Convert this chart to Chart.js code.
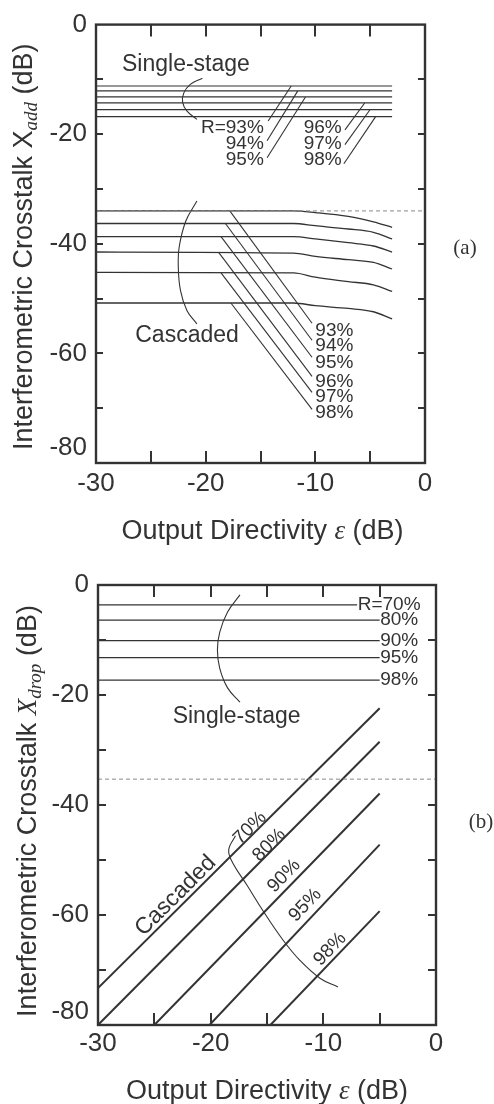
<!DOCTYPE html>
<html>
<head>
<meta charset="utf-8">
<script src="https://cdn.jsdelivr.net/npm/chart.js@4.4.1/dist/chart.umd.min.js"></script>
<style>
    html, body { margin: 0; padding: 0; background: #fff; }
    body { width: 494px; height: 1104px; position: relative; overflow: hidden; }
    canvas { position: absolute; left: 0; }
    #chartA { top: 0; }
    #chartB { top: 550px; }
</style>
</head>
<body>
<canvas id="chartA" width="494" height="550"></canvas>
<canvas id="chartB" width="494" height="554"></canvas>
<script>
// ===================================
// DATOS
// ===================================

// (a) add port: X_add vs epsilon
const epsA = [-30, -12, -10, -7, -4.7, -3];
const singleTextA = ['R=93%', '94%', '95%', '96%', '97%', '98%'];
const cascTextA = ['93%', '94%', '95%', '96%', '97%', '98%'];
const singleA = [-11.2, -12.1, -13.2, -14.3, -15.5, -16.8];
const cascadedA = [
    [-34.0, -34.0, -34.3, -35.0, -36.0, -37.0],
    [-36.3, -36.3, -36.7, -37.3, -37.9, -39.1],
    [-38.7, -38.7, -39.1, -39.8, -40.4, -41.5],
    [-41.5, -41.7, -42.3, -42.9, -43.4, -44.6],
    [-45.2, -45.3, -46.1, -46.9, -47.5, -48.7],
    [-50.8, -50.8, -51.3, -51.8, -52.4, -53.7]
];
const refLineA = -34;
// leader lines [x1, y1, x2, y2]
const singleLeadA = [
    [-12.2, -11.2, -14.3, -17.6],
    [-11.6, -12.1, -14.4, -21.2],
    [-10.9, -13.2, -14.4, -24.3],
    [-5.5, -14.3, -7.3, -19.2],
    [-5.0, -15.5, -7.3, -21.9],
    [-4.5, -16.8, -7.4, -25.4]
];
const cascLeadA = [
    [-17.8, -34.0, -10.3, -54.5],
    [-18.2, -36.3, -10.3, -57.6],
    [-18.6, -38.7, -10.3, -60.7],
    [-18.8, -41.6, -10.3, -64.2],
    [-18.6, -45.3, -10.3, -67.1],
    [-17.7, -50.8, -10.3, -70.2]
];
const singleLabelA = [[-14.7, -18.9], [-14.7, -21.7], [-14.7, -24.6], [-7.6, -18.9], [-7.6, -21.7], [-7.6, -24.6]];
const cascLabelA = [[-10.0, -55.8], [-10.0, -58.6], [-10.0, -61.7], [-10.0, -65.1], [-10.0, -67.9], [-10.0, -70.9]];
const singleBraceA = [[-20.3, -9.8], [-21.4, -10.9], [-22.0, -12.5], [-22.1, -14.2], [-21.7, -15.8], [-20.8, -17.3]];
const cascBraceA = [[-20.8, -32.2], [-21.8, -35.8], [-22.4, -40.4], [-22.5, -44.0], [-22.3, -48.5], [-21.7, -52.2], [-20.8, -54.6]];

// (b) drop port: X_drop vs epsilon
const singleTextB = ['R=70%', '80%', '90%', '95%', '98%'];
const cascTextB = ['70%', '80%', '90%', '95%', '98%'];
const singleB = [-3.6, -6.4, -10.1, -13.2, -17.3];
const singleEndB = [-7.0, -5, -5, -5, -5];
const cascadedB = [
    [-30, -73.3, -5, -22.4],
    [-30, -80.0, -5, -28.5],
    [-25, -80.0, -5, -37.9],
    [-20.1, -80.0, -5, -47.2],
    [-14.7, -80.0, -5, -59.3]
];
const refLineB = -35.3;
const cascLabelB = [[-16.5, -44.2], [-14.8, -47.3], [-13.5, -52.9], [-11.6, -58.2], [-9.4, -66.2]];
const singleBraceB = [[-17.4, -1.8], [-18.5, -4.9], [-19.2, -8.6], [-19.4, -11.8], [-19.2, -15.1], [-18.5, -18.7], [-17.4, -21.3]];
const cascBraceB = [[-17.8, -45.6], [-18.4, -48.2], [-18.0, -50.7], [-16.8, -54.5], [-15.4, -59.1], [-13.6, -64.5], [-12.1, -68.2], [-10.3, -71.5], [-8.7, -73.1]];

// ===================================
// ESTILO
// ===================================
const INK = '#333333';
const SANS = '"Liberation Sans", Arial, Helvetica, sans-serif';
const SERIF = '"Liberation Serif", "Times New Roman", serif';

function seg(s, width) {
    return {
        data: [{ x: s[0], y: s[1] }, { x: s[2], y: s[3] }],
        borderColor: INK, borderWidth: width || 1.2, pointRadius: 0, tension: 0
    };
}

function curve(pts, width, tension) {
    return {
        data: pts.map(p => ({ x: p[0], y: p[1] })),
        borderColor: INK, borderWidth: width || 1.2, pointRadius: 0, tension: tension
    };
}

function dashed(yv) {
    return {
        data: [{ x: -30, y: yv }, { x: 0, y: yv }],
        borderColor: '#8a8a8a', borderWidth: 1, borderDash: [4, 3], pointRadius: 0
    };
}

function drawRich(ctx, parts, cx, cy, angle, align) {
    ctx.save();
    ctx.translate(cx, cy);
    ctx.rotate(angle || 0);
    let total = 0;
    parts.forEach(p => { ctx.font = p.font; p.w = ctx.measureText(p.text).width; total += p.w; });
    let xpos = -total / 2;
    if (align === 'left') xpos = 0;
    if (align === 'right') xpos = -total;
    ctx.textBaseline = 'middle';
    ctx.textAlign = 'left';
    parts.forEach(p => {
        ctx.font = p.font;
        ctx.fillText(p.text, xpos, p.dy || 0);
        xpos += p.w;
    });
    ctx.restore();
}

// Marco, ticks hacia dentro, textos y titulos de ejes
const notesPlugin = {
    id: 'notes',
    afterDraw(chart, args, o) {
        const { ctx, chartArea: a, scales: { x, y } } = chart;
        ctx.save();
        ctx.strokeStyle = INK;
        ctx.lineWidth = 2.4;
        ctx.strokeRect(a.left, a.top, a.right - a.left, a.bottom - a.top);

        ctx.lineWidth = 2;
        ctx.beginPath();
        x.ticks.forEach(t => {
            if (t.value <= x.min || t.value >= x.max) return;
            const px = Math.round(x.getPixelForValue(t.value));
            ctx.moveTo(px, a.bottom); ctx.lineTo(px, a.bottom - o.xTick);
            ctx.moveTo(px, a.top); ctx.lineTo(px, a.top + o.xTick);
        });
        y.ticks.forEach(t => {
            if (t.value <= y.min || t.value >= y.max) return;
            const py = Math.round(y.getPixelForValue(t.value));
            ctx.moveTo(a.left, py); ctx.lineTo(a.left + o.yTick, py);
            ctx.moveTo(a.right, py); ctx.lineTo(a.right - o.yTick, py);
        });
        ctx.stroke();

        ctx.fillStyle = INK;
        o.texts.forEach(n => {
            let ang = 0;
            if (n.along) {
                const s = n.along;
                ang = Math.atan2(y.getPixelForValue(s[3]) - y.getPixelForValue(s[1]),
                                 x.getPixelForValue(s[2]) - x.getPixelForValue(s[0]));
            }
            drawRich(ctx, [{ text: n.text, font: n.font }], x.getPixelForValue(n.x), y.getPixelForValue(n.y), ang, n.align);
        });

        // etiqueta -80 desplazada hacia arriba como en el original
        drawRich(ctx, [{ text: '-80', font: '26px ' + SANS }], a.left - 9, a.bottom - o.lowShift, 0, 'right');

        drawRich(ctx, o.xTitle, (a.left + a.right) / 2 + o.xTitleDx, a.bottom + o.xTitleDy, 0);
        drawRich(ctx, o.yTitle, o.yTitleX, (a.top + a.bottom) / 2 + o.yTitleDy, -Math.PI / 2);
        drawRich(ctx, [{ text: o.tag, font: '21px ' + SERIF }], o.tagX, o.tagY, 0);
        ctx.restore();
    }
};

function baseOptions(cfg) {
    return {
        responsive: false,
        animation: false,
        layout: { padding: { top: cfg.top, right: cfg.right, left: 0, bottom: 0 } },
        plugins: {
            legend: { display: false },
            tooltip: { enabled: false },
            notes: cfg.notes
        },
        scales: {
            x: {
                type: 'linear', min: -30, max: 0,
                afterFit: s => { s.height = cfg.xHeight; },
                grid: { display: false, drawTicks: false },
                border: { display: false },
                ticks: {
                    stepSize: 5, autoSkip: false, maxRotation: 0, padding: cfg.xPad,
                    color: INK, font: { family: SANS, size: 26 },
                    callback: v => (v % 10 === 0 ? String(v) : '')
                }
            },
            y: {
                type: 'linear', min: -80, max: 0,
                afterFit: s => { s.width = cfg.yWidth; },
                grid: { display: false, drawTicks: false },
                border: { display: false },
                ticks: {
                    stepSize: 10, autoSkip: false, padding: 9,
                    color: INK, font: { family: SANS, size: 26 },
                    callback: v => (v % 20 === 0 && v !== -80 ? String(v) : '')
                }
            }
        }
    };
}

function xTitleParts() {
    return [
        { text: 'Output Directivity ', font: '27px ' + SANS },
        { text: 'ε', font: 'italic 27px ' + SERIF },
        { text: ' (dB)', font: '27px ' + SANS }
    ];
}

// ===================================
// GRAFICA (a)
// ===================================
const dsA = [dashed(refLineA)];
singleA.forEach(v => dsA.push(seg([-30, v, -3, v], 1.2)));
cascadedA.forEach(row => {
    const c = curve(epsA.map((e, i) => [e, row[i]]), 1.3, 0);
    c.cubicInterpolationMode = 'monotone';
    dsA.push(c);
});
singleLeadA.forEach(s => dsA.push(seg(s, 1.1)));
cascLeadA.forEach(s => dsA.push(seg(s, 1.1)));
dsA.push(curve(singleBraceA, 1.1, 0.4));
dsA.push(curve(cascBraceA, 1.1, 0.4));

const textsA = [
    { text: 'Single-stage', font: '23px ' + SANS, x: -21.8, y: -7.3 },
    { text: 'Cascaded', font: '23px ' + SANS, x: -21.7, y: -56.7 }
];
singleTextA.forEach((t, i) => textsA.push({ text: t, font: '19px ' + SANS, x: singleLabelA[i][0], y: singleLabelA[i][1], align: 'right' }));
cascTextA.forEach((t, i) => textsA.push({ text: t, font: '19px ' + SANS, x: cascLabelA[i][0], y: cascLabelA[i][1], align: 'left' }));

new Chart(document.getElementById('chartA'), {
    type: 'line',
    data: { datasets: dsA },
    options: baseOptions({
        top: 23, right: 69, xHeight: 87, yWidth: 96, xPad: 5,
        notes: {
            xTick: 12, yTick: 7, lowShift: 15, texts: textsA,
            xTitle: xTitleParts(), xTitleDx: 2, xTitleDy: 69,
            yTitle: [
                { text: 'Interferometric Crosstalk X', font: '27px ' + SANS },
                { text: 'add', font: 'italic 19px ' + SERIF, dy: 7 },
                { text: ' (dB)', font: '27px ' + SANS }
            ],
            yTitleX: 25, yTitleDy: 3,
            tag: '(a)', tagX: 465, tagY: 248
        }
    }),
    plugins: [notesPlugin]
});

// ===================================
// GRAFICA (b)
// ===================================
const dsB = [dashed(refLineB)];
singleB.forEach((v, i) => dsB.push(seg([-30, v, singleEndB[i], v], 1.2)));
cascadedB.forEach(s => dsB.push(seg(s, 2)));
dsB.push(curve(singleBraceB, 1.1, 0.4));
dsB.push(curve(cascBraceB, 1.1, 0.4));

const textsB = [
    { text: 'Single-stage', font: '23px ' + SANS, x: -17.7, y: -24.0 },
    { text: 'Cascaded', font: '23px ' + SANS, x: -23.1, y: -56.5, along: cascadedB[0] }
];
singleTextB.forEach((t, i) => textsB.push({ text: t, font: '19px ' + SANS, x: singleEndB[i] + 0.05, y: singleB[i], align: 'left' }));
cascTextB.forEach((t, i) => textsB.push({ text: t, font: '19px ' + SANS, x: cascLabelB[i][0], y: cascLabelB[i][1], along: cascadedB[i] }));

new Chart(document.getElementById('chartB'), {
    type: 'line',
    data: { datasets: dsB },
    options: baseOptions({
        top: 35, right: 58, xHeight: 79, yWidth: 98, xPad: 3,
        notes: {
            xTick: 12, yTick: 8, lowShift: 13, texts: textsB,
            xTitle: xTitleParts(), xTitleDx: 0, xTitleDy: 67,
            yTitle: [
                { text: 'Interferometric Crosstalk ', font: '27px ' + SANS },
                { text: 'X', font: 'italic 27px ' + SERIF },
                { text: 'drop', font: 'italic 19px ' + SERIF, dy: 7 },
                { text: ' (dB)', font: '27px ' + SANS }
            ],
            yTitleX: 29, yTitleDy: 6,
            tag: '(b)', tagX: 481, tagY: 272
        }
    }),
    plugins: [notesPlugin]
});
</script>
</body>
</html>
